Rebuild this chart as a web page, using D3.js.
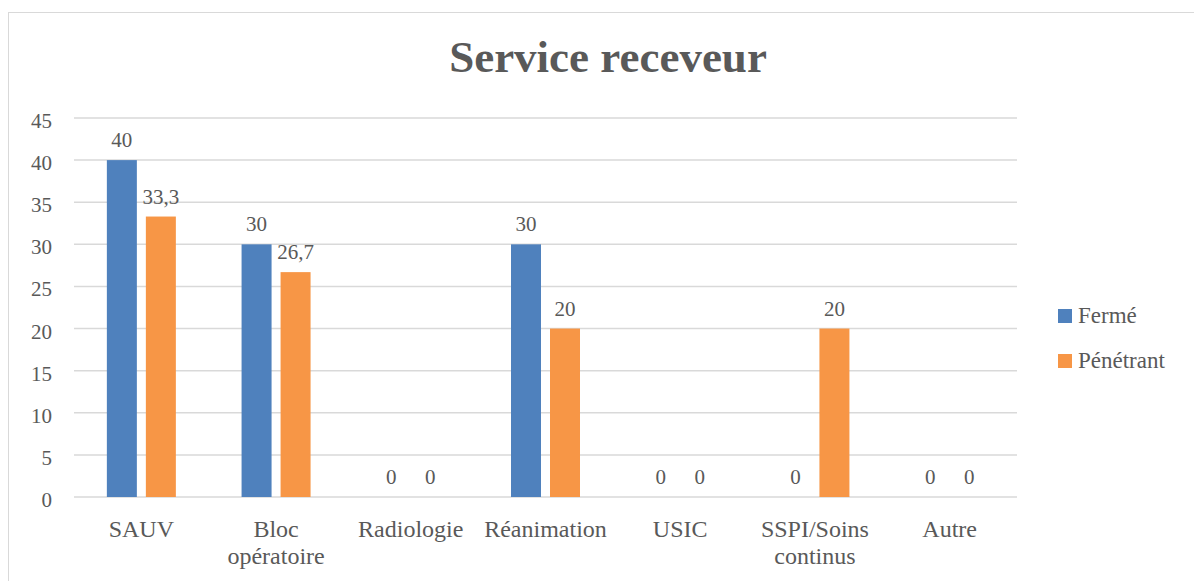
<!DOCTYPE html>
<html>
<head>
<meta charset="utf-8">
<script src="https://cdn.jsdelivr.net/npm/d3@7"></script>
<style>
  body { margin: 0; background: #fff; }
  svg text { font-family: "Liberation Serif", "DejaVu Serif", serif; fill: #595959; }
</style>
</head>
<body>
<svg id="chart" width="1194" height="581"></svg>
<script>
// donnees du graphique
const categories = [["SAUV"], ["Bloc", "opératoire"], ["Radiologie"], ["Réanimation"], ["USIC"], ["SSPI/Soins", "continus"], ["Autre"]];
const series = ["Fermé", "Pénétrant"];
const ferme = [40, 30, 0, 30, 0, 0, 0];
const penetrant = [33.3, 26.7, 0, 20, 0, 20, 0];
const yTicks = [0, 5, 10, 15, 20, 25, 30, 35, 40, 45];
const couleurs = ["#4F81BD", "#F79646"];

const svg = d3.select("#chart");

// cadre
svg.append("rect")
  .attr("x", 8.5).attr("y", 12.5)
  .attr("width", 1200).attr("height", 600)
  .attr("fill", "none")
  .attr("stroke", "#D9D9D9")
  .attr("stroke-width", 1);

// titre
svg.append("text")
  .attr("x", 608).attr("y", 72)
  .attr("text-anchor", "middle")
  .attr("font-size", 45)
  .attr("font-weight", "bold")
  .text("Service receveur");

const x0 = d3.scaleBand().domain(d3.range(categories.length)).range([74, 1017]);
const y = d3.scaleLinear().domain([0, 45]).range([497, 118]);

// grille
svg.selectAll("line.grid").data(yTicks).enter().append("line")
  .attr("class", "grid")
  .attr("x1", 74).attr("x2", 1017)
  .attr("y1", d => y(d)).attr("y2", d => y(d))
  .attr("stroke", "#D9D9D9")
  .attr("stroke-width", 1.5);

// axe y
svg.selectAll("text.ytick").data(yTicks).enter().append("text")
  .attr("class", "ytick")
  .attr("x", 52).attr("y", d => y(d) + 10)
  .attr("text-anchor", "end")
  .attr("font-size", 21)
  .text(d => d);

// barres
const largeur = 30;
const decal = [-19.5, 19.5];
const valeurs = [ferme, penetrant];
valeurs.forEach(function(serie, s) {
  svg.selectAll("rect.s" + s).data(serie).enter().append("rect")
    .attr("class", "s" + s)
    .attr("x", (d, i) => x0(i) + x0.bandwidth() / 2 + decal[s] - largeur / 2)
    .attr("y", d => y(d))
    .attr("width", largeur)
    .attr("height", d => y(0) - y(d))
    .attr("fill", couleurs[s]);

  svg.selectAll("text.v" + s).data(serie).enter().append("text")
    .attr("class", "v" + s)
    .attr("x", (d, i) => x0(i) + x0.bandwidth() / 2 + decal[s])
    .attr("y", d => y(d) - 13)
    .attr("text-anchor", "middle")
    .attr("font-size", 21)
    .text(d => String(d).replace(".", ","));
});

// libelles des categories
categories.forEach(function(lignes, i) {
  const t = svg.append("text")
    .attr("x", x0(i) + x0.bandwidth() / 2)
    .attr("y", 537)
    .attr("text-anchor", "middle")
    .attr("font-size", 24);
  lignes.forEach(function(l, k) {
    t.append("tspan")
      .attr("x", x0(i) + x0.bandwidth() / 2)
      .attr("dy", k == 0 ? 0 : 27)
      .text(l);
  });
});

// legende
series.forEach(function(nom, s) {
  svg.append("rect")
    .attr("x", 1058).attr("y", 309 + s * 45)
    .attr("width", 14).attr("height", 14)
    .attr("fill", couleurs[s]);
  svg.append("text")
    .attr("x", 1078).attr("y", 323 + s * 45)
    .attr("font-size", 23)
    .text(nom);
});
</script>
</body>
</html>
